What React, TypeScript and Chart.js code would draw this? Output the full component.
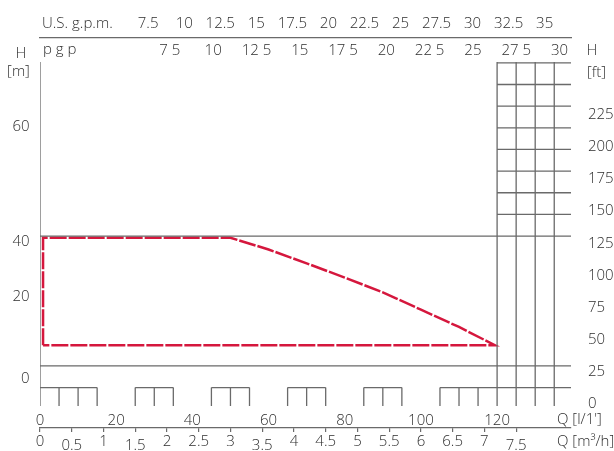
import React, { useEffect, useRef } from 'react';
import { Chart, registerables } from 'chart.js';

Chart.register(...registerables);

// ---- Flow axes ----
const flowMin = 0;
const flowMax = 139.4; // l/min at right edge of plot
const flowTicks = [0, 20, 40, 60, 80, 100, 120];
const LPM_PER_M3H = 1000 / 60;
const LPM_PER_USGPM = 3.78541;
const LPM_PER_IMPGPM = 4.54609;
const m3hTicks = [0, 0.5, 1, 1.5, 2, 2.5, 3, 3.5, 4, 4.5, 5, 5.5, 6, 6.5, 7, 7.5];
const m3hLabels = ['0', '0.5', '1', '1.5', '2', '2.5', '3', '3.5', '4', '4.5', '5', '5.5', '6', '6.5', '7', '7.5'];
const m3hLowered = [false, true, false, true, false, false, false, true, false, false, false, false, false, false, false, true];
const usGpmTicks = [7.5, 10, 12.5, 15, 17.5, 20, 22.5, 25, 27.5, 30, 32.5, 35];
const usGpmLabels = ['7.5', '10', '12.5', '15', '17.5', '20', '22.5', '25', '27.5', '30', '32.5', '35'];
const impGpmTicks = [7.5, 10, 12.5, 15, 17.5, 20, 22.5, 25, 27.5, 30];
const impGpmLabels = ['7 5', '10', '12 5', '15', '17 5', '20', '22 5', '25', '27 5', '30'];

// ---- Head axes ----
const headMin = 0.75; // m
const headMax = 80.2; // m
const headTickAt = [65.2, 38.8, 26.0, 7.0]; // where the [m] labels sit
const headTickLabels = ['60', '40', '20', '0'];
const ftMin = -1.4;
const ftMax = 265.8;
const ftTicks = [0, 25, 50, 75, 100, 125, 150, 175, 200, 225];

// ---- Operating envelope (Q l/min, H m) ----
const envQ = [0.8, 0.8, 50, 60, 70, 80, 90, 100, 110, 119.4, 0.8];
const envH = [14.8, 39.6, 39.6, 36.9, 33.7, 30.4, 27.0, 23.0, 19.0, 14.8, 14.8];

// ---- Grid structure ----
const fullHLines = [40, 10];
const rightGridH = [45, 50, 55, 60, 65, 70, 75, 80];
const rightGridQ = [120, 125, 130, 135];
const boxTopH = 5;
const boxSpans = [[0, 15], [25, 35], [45, 55], [65, 75], [85, 95], [105, 120]];
const boxCellQ = [5, 10, 15, 25, 30, 35, 45, 50, 55, 65, 70, 75, 85, 90, 95, 105, 110, 115];

const FAMILY = "'Open Sans', 'Noto Sans', sans-serif";
const WEIGHT = '300';
const FONT_CSS = `normal ${WEIGHT} 15px ${FAMILY}`;
const TEXT = '#2e2e2e';
const GRAY = '#6a6a6a';
const RED = '#d5173d';

type Seg = [number, number, number, number];
function segData(list: Seg[]) {
  const out: { x: number; y: number | null }[] = [];
  for (const [x1, y1, x2, y2] of list) {
    out.push({ x: x1, y: y1 }, { x: x2, y: y2 }, { x: x2, y: null });
  }
  return out;
}

const extraText = {
  id: 'extraText',
  afterDraw(chart: any) {
    const ctx = chart.ctx as CanvasRenderingContext2D;
    const { left } = chart.chartArea;
    const s = chart.scales;
    ctx.save();
    ctx.fillStyle = TEXT;
    ctx.font = FONT_CSS;
    ctx.textBaseline = 'middle';
    ctx.textAlign = 'left';
    ctx.fillText('U.S. g.p.m.', left + 2, s.xUS.bottom - 14);
    ctx.fillText('p g p', left + 3, s.xImp.bottom - 12);
    ctx.textAlign = 'center';
    ctx.fillText('H', 21, 54);
    ctx.fillText('[m]', 18.5, 72);
    ctx.fillText('H', 592, 50.5);
    ctx.textAlign = 'left';
    ctx.fillText('[ft]', 587, 73);
    ctx.fillText("Q [l/1']", 557, s.x.top + 14);
    ctx.fillText('Q [m\u00B3/h]', 557, s.x2.top + 14);
    ctx.restore();
  },
};

function tickFont(lineHeight = 1.2) {
  return { family: FAMILY, style: 'normal', weight: WEIGHT, size: 15, lineHeight };
}

export default function App() {
  const ref = useRef<HTMLCanvasElement | null>(null);

  useEffect(() => {
    if (!ref.current) return;

    const gridSegs: Seg[] = [
      ...fullHLines.map((h) => [flowMin, h, flowMax, h] as Seg),
      ...rightGridH.map((h) => [rightGridQ[0], h, flowMax, h] as Seg),
      ...boxSpans.map(([a, b]) => [a, boxTopH, b, boxTopH] as Seg),
      [rightGridQ[0], boxTopH, flowMax, boxTopH] as Seg,
      ...[flowMin, ...rightGridQ].map((q) => [q, headMin, q, headMax] as Seg),
      ...boxCellQ.map((q) => [q, headMin, q, boxTopH] as Seg),
    ];

    const envelope = envQ.map((q, i) => ({ x: q, y: envH[i] }));

    const chart = new Chart(ref.current, {
      type: 'scatter',
      data: {
        datasets: [
          {
            data: segData(gridSegs),
            showLine: true,
            borderColor: GRAY,
            borderWidth: 1.3,
            pointRadius: 0,
            spanGaps: false,
            xAxisID: 'x',
            yAxisID: 'y',
          },
          {
            data: envelope,
            showLine: true,
            borderColor: RED,
            borderWidth: 2.5,
            borderDash: [17, 2],
            borderCapStyle: 'butt',
            borderJoinStyle: 'miter',
            pointRadius: 0,
            xAxisID: 'x',
            yAxisID: 'y',
          },
        ] as any,
      },
      plugins: [extraText],
      options: {
        animation: false,
        responsive: true,
        maintainAspectRatio: false,
        events: [],
        layout: { padding: 0, autoPadding: false },
        plugins: { legend: { display: false }, tooltip: { enabled: false }, title: { display: false } },
        scales: {
          x: {
            type: 'linear',
            position: 'bottom',
            weight: 1,
            min: flowMin,
            max: flowMax,
            afterBuildTicks: (sc: any) => { sc.ticks = flowTicks.map((v) => ({ value: v })); },
            afterFit: (sc: any) => { sc.height = 22; },
            grid: { display: false, drawTicks: false },
            border: { display: false },
            ticks: {
              autoSkip: false, maxRotation: 0, minRotation: 0, padding: 5.4,
              color: TEXT, font: tickFont(),
              callback: (v: any) => String(v),
            },
          },
          x2: {
            type: 'linear',
            position: 'bottom',
            weight: 2,
            min: flowMin / LPM_PER_M3H,
            max: flowMax / LPM_PER_M3H,
            afterBuildTicks: (sc: any) => { sc.ticks = m3hTicks.map((v) => ({ value: v })); },
            afterFit: (sc: any) => { sc.height = 23; },
            grid: { display: true, drawOnChartArea: false, drawTicks: true, tickLength: 4, color: GRAY, lineWidth: 1.2 },
            border: { display: true, color: GRAY, width: 1.2 },
            ticks: {
              autoSkip: false, maxRotation: 0, minRotation: 0, padding: 0.5,
              color: TEXT,
              font: (c: any) => tickFont(m3hLowered[c.index] ? 1.8 : 1.2),
              callback: (_v: any, i: number) => m3hLabels[i],
            },
          },
          xImp: {
            type: 'linear',
            position: 'top',
            weight: 1,
            min: flowMin / LPM_PER_IMPGPM,
            max: flowMax / LPM_PER_IMPGPM,
            afterBuildTicks: (sc: any) => { sc.ticks = impGpmTicks.map((v) => ({ value: v })); },
            afterFit: (sc: any) => { sc.height = 24; },
            grid: { display: false, drawTicks: false },
            border: { display: false },
            ticks: {
              autoSkip: false, maxRotation: 0, minRotation: 0, padding: 2.5,
              color: TEXT, font: tickFont(),
              callback: (_v: any, i: number) => impGpmLabels[i],
            },
          },
          xUS: {
            type: 'linear',
            position: 'top',
            weight: 2,
            min: flowMin / LPM_PER_USGPM,
            max: flowMax / LPM_PER_USGPM,
            afterBuildTicks: (sc: any) => { sc.ticks = usGpmTicks.map((v) => ({ value: v })); },
            afterFit: (sc: any) => { sc.height = 38; },
            grid: { display: false, drawTicks: false },
            border: { display: true, color: GRAY, width: 1.2 },
            ticks: {
              autoSkip: false, maxRotation: 0, minRotation: 0, padding: 5,
              color: TEXT, font: tickFont(),
              callback: (_v: any, i: number) => usGpmLabels[i],
            },
          },
          y: {
            type: 'linear',
            position: 'left',
            min: headMin,
            max: headMax,
            afterBuildTicks: (sc: any) => { sc.ticks = headTickAt.map((v) => ({ value: v })); },
            afterFit: (sc: any) => { sc.width = 40; },
            grid: { display: false, drawTicks: false },
            border: { display: false },
            ticks: {
              autoSkip: false, padding: 10.5,
              color: TEXT, font: tickFont(),
              callback: (_v: any, i: number) => headTickLabels[i],
            },
          },
          y2: {
            type: 'linear',
            position: 'right',
            min: ftMin,
            max: ftMax,
            afterBuildTicks: (sc: any) => { sc.ticks = ftTicks.map((v) => ({ value: v })); },
            afterFit: (sc: any) => { sc.width = 43; },
            grid: { display: false, drawTicks: false },
            border: { display: false },
            ticks: {
              autoSkip: false, padding: 17,
              color: TEXT, font: tickFont(),
              callback: (v: any) => String(v),
            },
          },
        } as any,
      },
    });

    return () => chart.destroy();
  }, []);

  return (
    <div style={{ position: 'fixed', left: 0, top: 0, width: '614px', height: '451px', background: '#fff' }}>
      <canvas ref={ref} />
    </div>
  );
}
